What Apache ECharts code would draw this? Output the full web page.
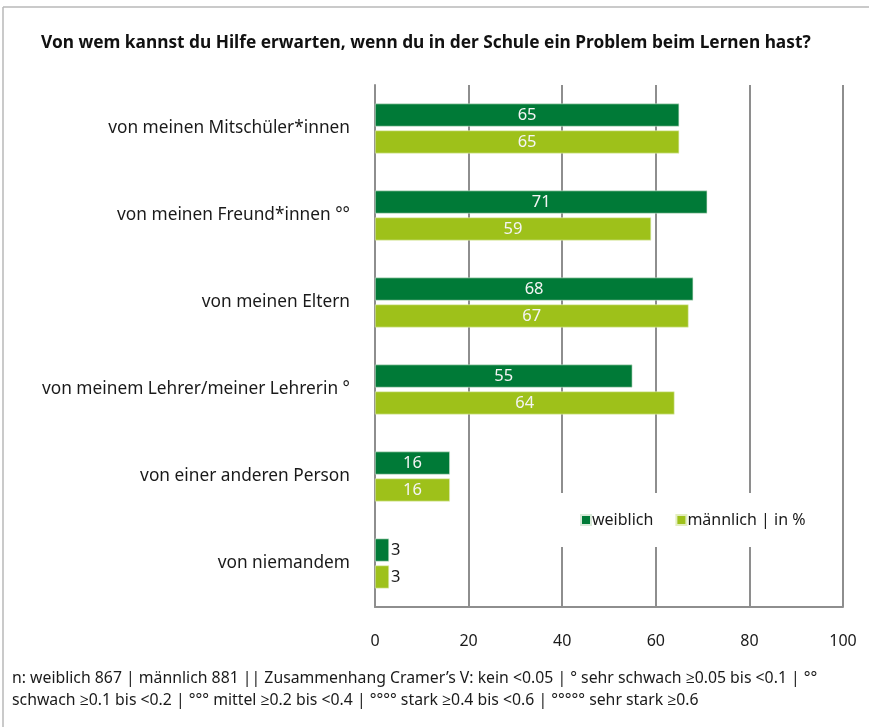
<!DOCTYPE html>
<html>
<head>
<meta charset="utf-8">
<script src="https://cdn.jsdelivr.net/npm/echarts@6/dist/echarts.min.js"></script>
<style>
  html, body { margin: 0; padding: 0; background: #fff; }
  #main { width: 869px; height: 727px; }
</style>
</head>
<body>
<div id="main"></div>
<script>
// Kategorien und Werte (in %)
var categories = [
  'von meinen Mitschüler*innen',
  'von meinen Freund*innen °°',
  'von meinen Eltern',
  'von meinem Lehrer/meiner Lehrerin °',
  'von einer anderen Person',
  'von niemandem'
];
var weiblich = [65, 71, 68, 55, 16, 3];
var maennlich = [65, 59, 67, 64, 16, 3];
var xTicks = [0, 20, 40, 60, 80, 100];

var font = "'Noto Sans', 'Open Sans', sans-serif";
var gridGray = '#8e8e8e';

// kleine Werte bekommen das Label rechts neben dem Balken
function toData(arr) {
  return arr.map(function (v) {
    if (v < 10) {
      return { value: v, label: { position: 'right', color: '#1a1a1a', distance: 2 } };
    }
    return v;
  });
}

var chart = echarts.init(document.getElementById('main'));
var option = {
  backgroundColor: '#fff',
  animation: false,
  title: {
    text: 'Von wem kannst du Hilfe erwarten, wenn du in der Schule ein Problem beim Lernen hast?',
    left: 36,
    top: 30,
    textStyle: { fontFamily: font, fontSize: 17.3, fontWeight: 'bold', color: '#111' }
  },
  legend: {
    left: 480,
    top: 493,
    padding: [19, 30, 19, 100],
    backgroundColor: '#fff',
    itemWidth: 10,
    itemHeight: 10,
    itemGap: 22,
    icon: 'rect',
    data: ['weiblich', 'männlich'],
    formatter: function (name) {
      return name === 'männlich' ? 'männlich | in %' : name;
    },
    textStyle: { fontFamily: font, fontSize: 16, color: '#1a1a1a', padding: [0, 0, 0, -4] }
  },
  grid: { left: 375, right: 26, top: 85, bottom: 120, containLabel: false },
  xAxis: {
    type: 'value',
    min: 0,
    max: 100,
    interval: 20,
    axisLine: { show: true, lineStyle: { color: gridGray, width: 2 } },
    axisTick: { show: false },
    splitLine: { show: true, lineStyle: { color: gridGray, width: 2 } },
    axisLabel: {
      margin: 26,
      fontFamily: font,
      fontSize: 16,
      color: '#1a1a1a',
      formatter: function (v) { return xTicks.indexOf(v) >= 0 ? String(v) : ''; }
    }
  },
  yAxis: {
    type: 'category',
    inverse: true,
    data: categories,
    axisLine: { show: true, lineStyle: { color: gridGray, width: 2 } },
    axisTick: { show: false },
    axisLabel: { margin: 25, fontFamily: font, fontSize: 17.3, color: '#1a1a1a' }
  },
  series: [
    {
      name: 'weiblich',
      type: 'bar',
      barWidth: 23,
      barGap: '17%',
      data: toData(weiblich),
      itemStyle: { color: '#007a37', borderColor: '#d9ead9', borderWidth: 0.6 },
      label: { show: true, position: 'inside', color: '#f4f4f4', fontFamily: font, fontSize: 16.5 }
    },
    {
      name: 'männlich',
      type: 'bar',
      barWidth: 23,
      barGap: '17%',
      data: toData(maennlich),
      itemStyle: { color: '#9ec11a', borderColor: '#e3eec0', borderWidth: 0.6 },
      label: { show: true, position: 'inside', color: '#f4f4f4', fontFamily: font, fontSize: 16.5 }
    }
  ],
  graphic: [
    { type: 'line', shape: { x1: 3, y1: 7, x2: 869, y2: 7 }, style: { stroke: '#b8b8b8', lineWidth: 1.5 } },
    { type: 'line', shape: { x1: 3, y1: 7, x2: 3, y2: 727 }, style: { stroke: '#b8b8b8', lineWidth: 1.5 } },
    {
      type: 'text',
      left: 12,
      top: 667,
      style: {
        text: 'n: weiblich 867 | männlich 881 || Zusammenhang Cramer’s V: kein <0.05 | ° sehr schwach ≥0.05 bis <0.1 | °°\n' +
              'schwach ≥0.1 bis <0.2 | °°° mittel ≥0.2 bis <0.4 | °°°° stark ≥0.4 bis <0.6 | °°°°° sehr stark ≥0.6',
        font: '15.8px ' + font,
        lineHeight: 22,
        fill: '#1a1a1a'
      }
    }
  ]
};
chart.setOption(option);
</script>
</body>
</html>
